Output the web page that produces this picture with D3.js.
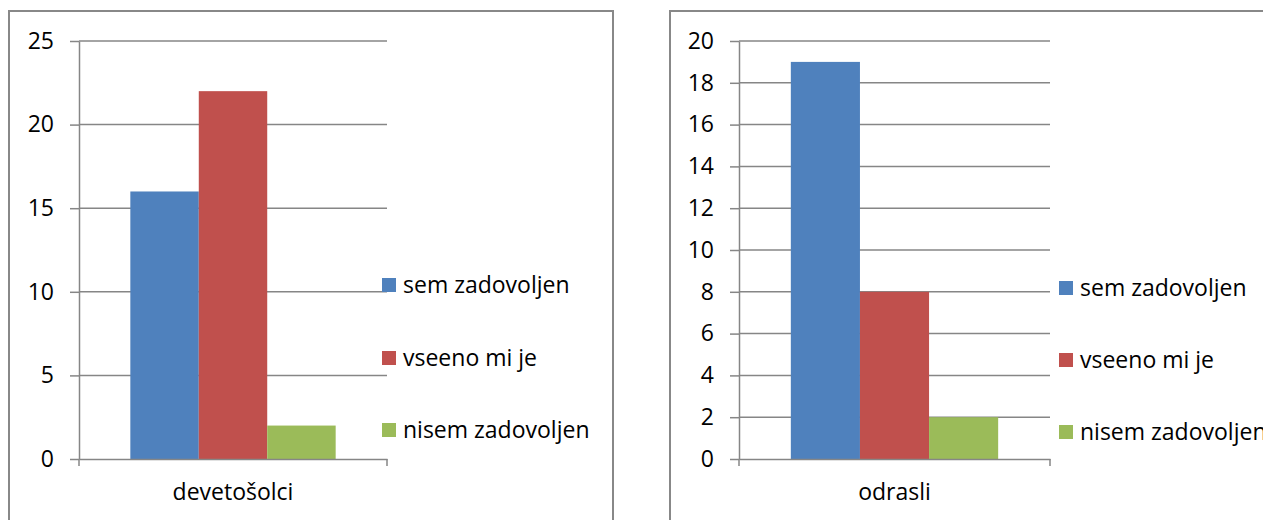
<!DOCTYPE html>
<html>
<head>
<meta charset="utf-8">
<script src="https://cdn.jsdelivr.net/npm/d3@7"></script>
<style>
    body { margin: 0; background: #fff; }
    svg text { font-family: "Open Sans", sans-serif; fill: #000; }
</style>
</head>
<body>
<div id="chart"></div>
<script>
// data
const series = ['sem zadovoljen', 'vseeno mi je', 'nisem zadovoljen'];
const seriesColors = ['#4f81bd', '#c0504d', '#9bbb59'];

const leftCategory = ['devetošolci'];
const leftValues = [16, 22, 2];
const leftTicks = [0, 5, 10, 15, 20, 25];

const rightCategory = ['odrasli'];
const rightValues = [19, 8, 2];
const rightTicks = [0, 2, 4, 6, 8, 10, 12, 14, 16, 18, 20];

const fontSize = '23px';

const svg = d3.select('#chart').append('svg')
    .attr('width', 1263)
    .attr('height', 520);

const buildPanel = (frame, plot, legendX, legendYs, category, values, ticks) => {
    const g = svg.append('g');

    // chart frame
    g.append('rect')
        .attr('x', frame.x)
        .attr('y', frame.y)
        .attr('width', frame.w)
        .attr('height', frame.h)
        .attr('fill', 'none')
        .attr('stroke', '#888')
        .attr('stroke-width', 2);

    const y = d3.scaleLinear()
        .domain([0, d3.max(ticks)])
        .range([plot.bottom, plot.top]);

    const x0 = d3.scaleBand()
        .domain(category)
        .range([plot.left, plot.right])
        .paddingInner(0)
        .paddingOuter(0.25);

    const x1 = d3.scaleBand()
        .domain(series)
        .range([0, x0.bandwidth()]);

    // gridlines
    g.append('g')
        .selectAll('line')
        .data(ticks.filter(t => t > 0))
        .enter().append('line')
        .attr('x1', plot.left)
        .attr('x2', plot.right)
        .attr('y1', d => y(d))
        .attr('y2', d => y(d))
        .attr('stroke', '#868686')
        .attr('stroke-width', 1.5);

    // bars
    g.append('g')
        .selectAll('rect')
        .data(values.map((v, i) => ({ name: series[i], value: v, color: seriesColors[i] })))
        .enter().append('rect')
        .attr('x', d => x0(category[0]) + x1(d.name))
        .attr('y', d => y(d.value))
        .attr('width', x1.bandwidth())
        .attr('height', d => y(0) - y(d.value))
        .attr('fill', d => d.color);

    // y axis
    const yAxis = g.append('g')
        .attr('transform', 'translate(' + plot.left + ',0)')
        .call(d3.axisLeft(y).tickValues(ticks).tickSizeInner(9).tickSizeOuter(0).tickPadding(16));
    yAxis.selectAll('path, line').attr('stroke', '#868686').attr('stroke-width', 1.5);
    yAxis.selectAll('text').style('font-size', fontSize).attr('font-family', null);

    // x axis
    const xAxis = g.append('g')
        .attr('transform', 'translate(0,' + plot.bottom + ')')
        .call(d3.axisBottom(x0).tickSize(0).tickPadding(25));
    xAxis.select('.domain').attr('stroke', '#868686').attr('stroke-width', 1.5);
    xAxis.selectAll('text').style('font-size', fontSize).attr('font-family', null);
    [plot.left, plot.right].forEach(px => {
        xAxis.append('line')
            .attr('x1', px).attr('x2', px)
            .attr('y1', 0).attr('y2', 7)
            .attr('stroke', '#868686')
            .attr('stroke-width', 1.5);
    });

    // legend
    const legend = g.append('g')
        .selectAll('g')
        .data(series)
        .enter().append('g')
        .attr('transform', (d, i) => 'translate(' + legendX + ',' + legendYs[i] + ')');
    legend.append('rect')
        .attr('x', 0)
        .attr('y', -7)
        .attr('width', 14)
        .attr('height', 14)
        .attr('fill', (d, i) => seriesColors[i]);
    legend.append('text')
        .attr('x', 21)
        .attr('dy', '0.35em')
        .style('font-size', fontSize)
        .text(d => d);
};

buildPanel(
    { x: 9, y: 11, w: 604, h: 530 },
    { left: 79, right: 387, top: 41, bottom: 459 },
    382, [285, 358, 430],
    leftCategory, leftValues, leftTicks
);

buildPanel(
    { x: 670, y: 11, w: 620, h: 530 },
    { left: 739, right: 1050, top: 41, bottom: 459 },
    1059, [288, 360, 432],
    rightCategory, rightValues, rightTicks
);
</script>
</body>
</html>
